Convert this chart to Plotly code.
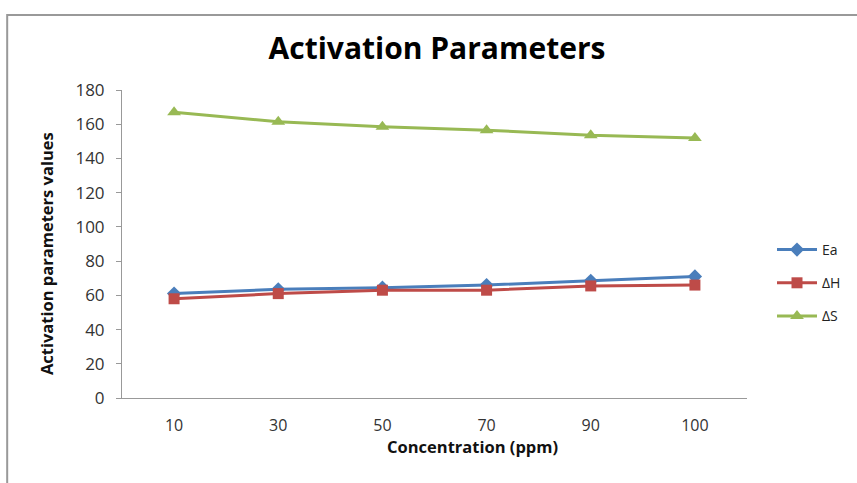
import plotly.graph_objects as go

concentration = ["10", "30", "50", "70", "90", "100"]
ea = [61, 63.5, 64.5, 66, 68.5, 71]
dh = [58, 61, 63, 63, 65.5, 66]
ds = [167, 161.5, 158.5, 156.5, 153.5, 152]
y_ticks = [0, 20, 40, 60, 80, 100, 120, 140, 160, 180]

W, H = 857, 483
L, R, T, B = 122, 109, 90, 85
pw, ph = W - L - R, H - T - B


def px_x(x):
    return (x - L) / pw


def px_y(y):
    return (H - B - y) / ph


fig = go.Figure()
fig.add_trace(go.Scatter(x=concentration, y=ea, name="Ea", mode="lines+markers",
                         legendgroup="a",
                         line=dict(color="#4a7ebb", width=3),
                         marker=dict(symbol="diamond", size=11, color="#4a7ebb")))
fig.add_trace(go.Scatter(x=concentration, y=dh, name="ΔH", mode="lines+markers",
                         legendgroup="b",
                         line=dict(color="#be4b48", width=3),
                         marker=dict(symbol="square", size=11, color="#be4b48")))
fig.add_trace(go.Scatter(x=concentration, y=ds, name="ΔS", mode="lines+markers",
                         legendgroup="c",
                         line=dict(color="#98b954", width=3),
                         marker=dict(symbol="triangle-up", size=12, color="#98b954")))

fig.update_layout(
    width=W, height=H,
    margin=dict(l=L, r=R, t=T, b=B),
    paper_bgcolor="white", plot_bgcolor="white",
    font=dict(family="Open Sans", color="#222"),
    title=dict(text="<b>Activation Parameters</b>", x=437 / W, xanchor="center",
               y=1 - 48 / H, yanchor="middle", font=dict(size=30, color="#000")),
    legend=dict(x=px_x(772), xanchor="left", y=px_y(234), yanchor="top",
                font=dict(size=14, color="#222"), tracegroupgap=12,
                traceorder="grouped", itemwidth=40,
                bgcolor="rgba(0,0,0,0)"),
    showlegend=True,
)
fig.update_xaxes(type="category", range=[-0.5, 5.5], showline=True, linecolor="#999",
                 linewidth=1, ticks="", showgrid=False, tickfont=dict(size=16, color="#333"),
                 ticklabelstandoff=13)
fig.update_yaxes(range=[0, 180], tickvals=y_ticks, showline=True, linecolor="#999",
                 linewidth=1, ticks="outside", ticklen=5, tickcolor="#999",
                 ticklabelstandoff=8,
                 showgrid=False, zeroline=False, tickfont=dict(size=17, color="#333"))

# axis titles
fig.add_annotation(text="<b>Concentration (ppm)</b>", xref="paper", yref="paper",
                   x=px_x(473), y=px_y(446), xanchor="center", yanchor="middle",
                   showarrow=False, font=dict(size=16.5, color="#111"))
fig.add_annotation(text="<b>Activation parameters values</b>", xref="paper", yref="paper",
                   x=px_x(46), y=px_y(254), xanchor="center", yanchor="middle",
                   textangle=-90, showarrow=False, font=dict(size=16.5, color="#111"))

# outer chart border
fig.add_shape(type="rect", xref="paper", yref="paper",
              x0=px_x(7), x1=px_x(W + 20),
              y0=px_y(H + 20), y1=px_y(15),
              line=dict(color="#999", width=2), fillcolor="rgba(0,0,0,0)", layer="below")

fig.write_html("out.html")
